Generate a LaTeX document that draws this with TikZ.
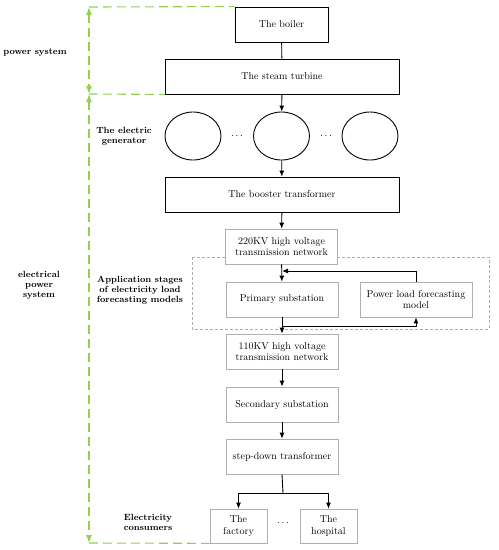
\documentclass[tikz,border=0pt]{standalone}
\usepackage{xcolor}
\usepackage{tikz}
\usetikzlibrary{arrows.meta, positioning, shapes.geometric, calc}
\definecolor{gridgreen}{RGB}{146, 208, 80}
\definecolor{boxgray}{RGB}{175, 175, 175}

\begin{document}
\begin{tikzpicture}[
  x=1pt, y=-1pt,
  blackbox/.style={rectangle, draw=black, line width=0.9pt, fill=white,
              align=center, font=\fontsize{10}{11.5}\selectfont, inner sep=0pt},
  graybox/.style={rectangle, draw=boxgray, line width=0.7pt, fill=white,
              align=center, font=\fontsize{10}{11.5}\selectfont, inner sep=0pt,
              minimum width=112pt, minimum height=35pt},
  gen/.style={ellipse, draw=black, line width=0.9pt, minimum width=56pt, minimum height=48pt, inner sep=0pt},
  sidelabel/.style={align=center, font=\fontsize{9}{10}\selectfont\bfseries},
  arr/.style={-{Latex[length=6pt, width=5pt]}, line width=0.9pt},
  gline/.style={gridgreen, line width=1.1pt, dash pattern=on 9pt off 5pt},
  garr/.style={{Latex[length=8pt, width=6pt]}-{Latex[length=8pt, width=6pt]}, gridgreen, line width=1.1pt, dash pattern=on 9pt off 5pt}
]
\useasboundingbox (0,0) rectangle (499,550);

% application stage frame
\draw[boxgray, line width=0.6pt, dash pattern=on 3pt off 2pt] (192,257) rectangle (489,329);

% generation chain
\node[blackbox, minimum width=93pt, minimum height=35pt] (boiler) at (281.5,24.5) {The boiler};
\node[blackbox, minimum width=234pt, minimum height=35pt] (turbine) at (282,76.5) {The steam turbine};
\node[gen] (gen1) at (193,136) {};
\node[gen] (gen2) at (281.5,136) {};
\node[gen] (gen3) at (370,136) {};
\node (dotsa) at (237,136) {$\cdots$};
\node (dotsb) at (326,136) {$\cdots$};
\node[blackbox, minimum width=234pt, minimum height=35pt] (booster) at (282,194.5) {The booster transformer};

% transmission and distribution
\node[graybox] (hv220) at (281.5,246.5) {220KV high voltage\\transmission network};
\node[graybox] (primary) at (282,299.5) {Primary substation};
\node[graybox] (forecast) at (416,299.5) {Power load forecasting\\model};
\node[graybox] (hv110) at (282,351.5) {110KV high voltage\\transmission network};
\node[graybox] (secondary) at (282,404.5) {Secondary substation};
\node[graybox] (stepdown) at (282,456.5) {step-down transformer};
\node[graybox, minimum width=57pt, minimum height=34pt] (factory) at (238.5,526) {The\\factory};
\node[graybox, minimum width=57pt, minimum height=34pt] (hospital) at (328.5,526) {The\\hospital};
\node (dotsc) at (283,523) {$\cdots$};

% side labels
\node[sidelabel] (lblpower) at (35,53) {power system};
\node[sidelabel] (lblgen) at (124,136) {The electric\\generator};
\node[sidelabel] (lblelec) at (39,285) {electrical\\power\\system};
\node[sidelabel] (lblapp) at (140,290) {Application stages\\of electricity load\\forecasting models};
\node[sidelabel] (lblcons) at (148,522) {Electricity\\consumers};

\draw[line width=0.9pt] (boiler) -- (turbine);
\draw[arr] (turbine) -- (gen2);
\draw[arr] (gen2) -- (booster);
\draw[arr] (booster) -- (hv220);
\draw[arr] (hv220) -- (primary);
\draw[arr] (primary) -- (hv110);
\draw[arr] (hv110) -- (secondary);
\draw[arr] (secondary) -- (stepdown);

% forecasting loop
\coordinate (fbin) at (282,271);
\coordinate (fbout) at (282,326);
\draw[arr] (forecast.north) |- (fbin);
\draw[arr] (fbout) -| (forecast.south);

% consumers
\coordinate (split) at (283,493);
\draw[line width=0.9pt] (stepdown.south) -- (split);
\draw[arr] (split) -| (factory.north);
\draw[arr] (split) -| (hospital.north);

% green brackets
\coordinate (gtop) at (89,7);
\coordinate (gmid) at (89,94);
\coordinate (gbot) at (89,543);
\draw[gline] (gtop) -- (boiler.north west);
\draw[gline] (gmid) -- (turbine.south west);
\draw[gline] (gbot) -- (factory.south west);
\draw[garr] (gtop) -- (gmid);
\draw[garr] (gmid) -- (gbot);
\end{tikzpicture}
\end{document}
